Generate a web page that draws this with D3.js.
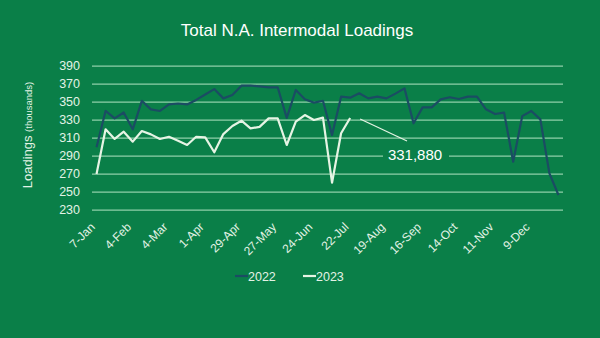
<!DOCTYPE html>
<html><head><meta charset="utf-8">
<script src="https://cdn.jsdelivr.net/npm/d3@7"></script>
<style>body{margin:0;background:#0a7f48;}svg{display:block;}</style>
</head><body>
<svg id="c" width="600" height="338"></svg>
<script>
const weeks = ["7-Jan","14-Jan","21-Jan","28-Jan","4-Feb","11-Feb","18-Feb","25-Feb","4-Mar","11-Mar","18-Mar","25-Mar","1-Apr","8-Apr","15-Apr","22-Apr","29-Apr","6-May","13-May","20-May","27-May","3-Jun","10-Jun","17-Jun","24-Jun","1-Jul","8-Jul","15-Jul","22-Jul","29-Jul","5-Aug","12-Aug","19-Aug","26-Aug","2-Sep","9-Sep","16-Sep","23-Sep","30-Sep","7-Oct","14-Oct","21-Oct","28-Oct","4-Nov","11-Nov","18-Nov","25-Nov","2-Dec","9-Dec","16-Dec","23-Dec","30-Dec"];
const tickLabels = ["7-Jan","4-Feb","4-Mar","1-Apr","29-Apr","27-May","24-Jun","22-Jul","19-Aug","16-Sep","14-Oct","11-Nov","9-Dec"];
const yTicks = [230,250,270,290,310,330,350,370,390];
const s2022 = [299.5,339.7,331.5,338,319.3,351,341.5,339.7,347,348,347,352,358,364,353.7,357.4,367.8,368,367,366,366,332,363,352.7,349,351,313,355.6,354.5,359.3,353.7,355.6,353.7,359,364.8,326,343.7,343.7,352.6,354.9,353,355.6,355.6,341.5,336.3,337.8,283.3,334,339.7,330.4,270.4,246.3];
const s2023 = [269.7,319.3,308.6,316.7,305.6,317.4,313.7,308.6,311,306.7,301.9,311,310.4,293.8,314,323,328.9,320.4,322,331.5,331.5,301.9,327.8,335.2,329.7,332.3,260,314.9,331.88];
const seriesNames = ["2022","2023"];
const annotationText = "331,880";

const bg = "#0a7f48", grid = "#8fcfa9", txt = "#e3f3e6", c22 = "#1b4c63", c23 = "#e6f4e4";
const svg = d3.select("#c");
svg.append("rect").attr("width",600).attr("height",338).attr("fill",bg);

const x = d3.scaleBand().domain(weeks).range([92,563]);
const y = d3.scaleLinear().domain([230,390]).range([209.7,65.7]);
const font = "Helvetica, Arial, 'Liberation Sans', sans-serif";

// title
svg.append("text").attr("x",297).attr("y",36).attr("text-anchor","middle")
  .attr("font-family",font).attr("font-size",17).attr("fill","#ffffff")
  .text("Total N.A. Intermodal Loadings");

// grid
const yAxis = d3.axisLeft(y).tickValues(yTicks).tickSize(-(563-92)).tickPadding(12);
const gy = svg.append("g").attr("transform","translate(92,0)").call(yAxis);
gy.select(".domain").remove();
gy.selectAll(".tick line").attr("stroke",grid).attr("stroke-width",1.3);
gy.selectAll(".tick text").attr("fill",txt).attr("font-family",font).attr("font-size",12.5).attr("x",-12);

// y title
const yt = svg.append("text").attr("transform","translate(32,135) rotate(-90)")
  .attr("text-anchor","middle").attr("font-family",font).attr("fill",txt);
yt.append("tspan").attr("font-size",13).text("Loadings ");
yt.append("tspan").attr("font-size",9.5).text("(thousands)");

// x axis labels
const xAxis = d3.axisBottom(x).tickValues(tickLabels).tickSize(0).tickPadding(0);
const gx = svg.append("g").attr("transform","translate(-3,224)").call(xAxis);
gx.select(".domain").remove();
gx.selectAll(".tick text").attr("fill",txt).attr("font-family",font).attr("font-size",12)
  .attr("text-anchor","end").attr("dy","0.35em").attr("y",0).attr("x",-1)
  .attr("transform","rotate(-45)");

// annotation box + leader
const lastIdx = s2023.length-1;
svg.append("rect").attr("x",383).attr("y",146).attr("width",66).attr("height",20).attr("fill",bg);
svg.append("line").attr("x1",x(weeks[lastIdx])+x.bandwidth()/2+10).attr("y1",y(s2023[lastIdx])+1)
  .attr("x2",407).attr("y2",141).attr("stroke",c23).attr("stroke-width",1.2);
svg.append("text").attr("x",415).attr("y",160).attr("text-anchor","middle")
  .attr("font-family",font).attr("font-size",15).attr("fill","#ffffff").text(annotationText);

// lines
const line = d3.line().x((d,i)=>x(weeks[i])+x.bandwidth()/2).y(d=>y(d));
svg.append("path").datum(s2022).attr("d",line).attr("fill","none").attr("stroke",c22).attr("stroke-width",2.2).attr("stroke-linejoin","round");
svg.append("path").datum(s2023).attr("d",line).attr("fill","none").attr("stroke",c23).attr("stroke-width",2.2).attr("stroke-linejoin","round");

// legend
const leg = [{n:seriesNames[0],c:c22,x:235},{n:seriesNames[1],c:c23,x:303}];
leg.forEach(l=>{
  svg.append("line").attr("x1",l.x).attr("x2",l.x+13).attr("y1",276).attr("y2",276).attr("stroke",l.c).attr("stroke-width",2.2);
  svg.append("text").attr("x",l.x+13).attr("y",280.5).attr("font-family",font).attr("font-size",12.5).attr("fill",txt).text(l.n);
});
</script>
</body></html>
